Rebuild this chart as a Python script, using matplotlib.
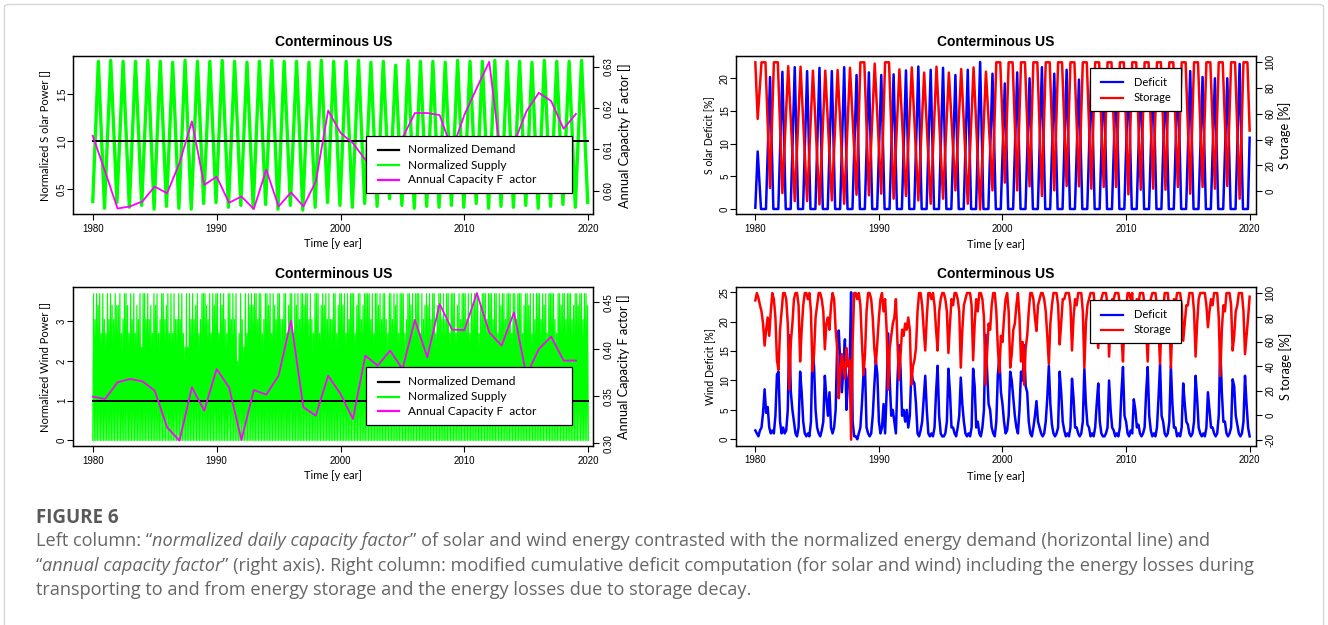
import numpy as np
import matplotlib.pyplot as plt
from matplotlib.patches import Rectangle, FancyBboxPatch
from matplotlib.lines import Line2D

plt.rcParams['font.family'] = ['Liberation Sans Narrow', 'Liberation Sans', 'DejaVu Sans']

W, H = 1328, 625

# ---------------- data ----------------
years = np.arange(1980, 2020)
xticks = [1980, 1990, 2000, 2010, 2020]
demand = 1.0

# annual capacity factor (magenta, right axis)
solar_cf = [0.6133, 0.6046, 0.5957, 0.5962, 0.5974, 0.6010, 0.5994, 0.6067, 0.6168, 0.6014,
            0.6034, 0.5971, 0.5986, 0.5956, 0.6051, 0.5962, 0.5996, 0.5962, 0.6022, 0.6194,
            0.6140, 0.6115, 0.6075, 0.6051, 0.6083, 0.6128, 0.6188, 0.6188, 0.6183, 0.6099,
            0.6184, 0.6249, 0.6312, 0.6067, 0.6115, 0.6192, 0.6237, 0.6217, 0.6150, 0.6186]
wind_cf = [0.3496, 0.3471, 0.3649, 0.3684, 0.3660, 0.3560, 0.3170, 0.3028, 0.3596, 0.3347,
           0.3790, 0.3596, 0.3035, 0.3567, 0.3517, 0.3719, 0.4305, 0.3383, 0.3294, 0.3719,
           0.3524, 0.3259, 0.3933, 0.3827, 0.3986, 0.3790, 0.4312, 0.3915, 0.4482, 0.4210,
           0.4205, 0.4599, 0.4181, 0.4039, 0.4394, 0.3719, 0.4003, 0.4135, 0.3880, 0.3880]

# normalized solar supply: start value, summer peaks, winter troughs
solar_start = 0.37
solar_peak = [1.84, 1.85, 1.84, 1.84, 1.85, 1.84, 1.83, 1.85, 1.84, 1.84,
              1.85, 1.84, 1.83, 1.84, 1.85, 1.84, 1.84, 1.83, 1.85, 1.84,
              1.84, 1.85, 1.83, 1.84, 1.80, 1.85, 1.84, 1.84, 1.83, 1.85,
              1.84, 1.84, 1.85, 1.84, 1.84, 1.83, 1.85, 1.84, 1.84, 1.85]
solar_trough = [0.30, 0.36, 0.31, 0.33, 0.29, 0.32, 0.30, 0.29, 0.35, 0.36,
                0.31, 0.33, 0.30, 0.34, 0.29, 0.33, 0.28, 0.31, 0.36, 0.33,
                0.31, 0.35, 0.32, 0.40, 0.33, 0.30, 0.32, 0.31, 0.33, 0.31,
                0.35, 0.30, 0.32, 0.31, 0.33, 0.30, 0.32, 0.34, 0.31, 0.36]

# normalized wind supply: peak heights, 8 per year ('9' = 3.7 ... '3' = 1.7)
wind_level = {'9': 3.70, '8': 3.40, '7': 3.05, '6': 2.70, '5': 2.35, '4': 2.00, '3': 1.70}
wind_peaks = ["97989697", "69798798", "89679986", "97968795", "99797869",
              "89679978", "96969779", "79659597", "97896799", "98796989",
              "96989769", "97979469", "75969898", "99799679", "98969879",
              "97799689", "96989799", "89979769", "99689897", "97799689",
              "98969799", "96899789", "99979699", "89799769", "97989699",
              "96799897", "99969789", "89799689", "97979969", "99689799",
              "97969899", "96899979", "99799698", "99799969", "97999689",
              "98969799", "97989699", "99769989", "97999789", "98997998"]

# solar deficit [%] (winter peaks) and storage [%]
sol_def_start, sol_def_end = 0.2, 10.9
sol_def_peak = [8.8, 20.2, 21.0, 21.7, 21.1, 21.6, 21.1, 21.7, 20.5, 20.9,
                20.5, 20.6, 21.2, 21.8, 21.3, 21.6, 20.5, 21.3, 22.5, 20.7,
                19.2, 20.9, 20.0, 21.7, 20.7, 21.3, 19.8, 20.8, 21.0, 20.6,
                21.2, 20.8, 21.0, 20.7, 21.1, 21.1, 20.2, 20.0, 20.0, 22.2]
sol_sto_start, sol_sto_end = 100, 47
sol_sto_trough = [56, 2.3, -1.6, -7.8, -7.8, -10.4, -7.3, -9.9, -2.9, -3.4,
                  -2.1, -6.0, -3.9, -7.3, -9.9, -6.0, 0.5, -9.9, -14.3, 0.5,
                  6.5, 0.5, 3.6, -3.9, 0.5, 3.9, 3.6, 1.8, 3.1, 3.1,
                  -2.6, 1.0, 1.8, 1.0, 3.1, -2.1, 3.1, 1.8, 3.9, -6.0]
sol_sto_peak = [100, 100, 97, 96.6, 93.5, 93.5, 94, 95.8, 100, 99,
                100, 94.5, 96, 92, 96.6, 92, 94.8, 96, 92.7, 100,
                100, 100, 100, 100, 100, 100, 100, 100, 100, 100,
                100, 100, 100, 100, 100, 100, 100, 100, 100, 100]

# wind deficit [%] and storage [%]: 8 readings per year (every 1.5 months)
wind_def = [
    [1.5, 1.0, 0.5, 1.5, 2.0, 4.5, 8.5, 4.5], [5.5, 2.0, 1.0, 1.5, 1.0, 4.0, 11.0, 11.5],
    [3.0, 1.0, 2.0, 1.0, 1.5, 5.0, 17.7, 8.0], [5.0, 3.0, 1.0, 0.5, 2.0, 11.5, 8.0, 3.0],
    [1.0, 0.5, 1.0, 0.5, 3.0, 15.0, 12.5, 5.0], [2.0, 1.0, 0.5, 1.5, 3.0, 10.8, 7.0, 4.0],
    [8.0, 2.0, 1.0, 2.0, 5.0, 16.0, 18.5, 13.0], [8.0, 12.0, 17.0, 5.0, 10.0, 12.0, 25.0, 3.0],
    [0.5, 0.5, 0.0, 1.0, 2.0, 6.0, 11.0, 12.0], [2.0, 1.0, 0.5, 1.0, 4.0, 9.0, 13.5, 11.0],
    [3.0, 1.0, 2.0, 6.0, 1.0, 8.0, 18.0, 10.0], [4.0, 5.0, 3.0, 1.0, 10.0, 16.0, 12.0, 4.0],
    [5.0, 3.0, 5.0, 2.0, 4.0, 11.5, 10.0, 9.5], [6.0, 1.0, 0.5, 1.5, 3.0, 7.0, 10.8, 5.0],
    [1.0, 0.5, 1.0, 0.5, 2.0, 8.0, 12.5, 4.0], [1.0, 0.5, 0.5, 1.0, 3.0, 12.0, 8.0, 2.0],
    [2.0, 1.0, 0.5, 2.0, 4.0, 10.5, 6.0, 3.0], [1.0, 0.5, 1.0, 0.5, 2.0, 12.0, 9.0, 2.0],
    [3.0, 1.0, 0.5, 2.0, 5.0, 17.8, 12.0, 6.0], [5.0, 2.0, 1.0, 0.5, 3.0, 11.0, 14.0, 8.0],
    [6.0, 3.0, 1.0, 1.5, 4.0, 11.5, 10.0, 7.0], [4.0, 2.0, 1.0, 5.0, 11.5, 10.0, 16.0, 9.0],
    [8.0, 3.0, 1.0, 0.5, 2.0, 4.0, 6.5, 3.0], [2.0, 1.0, 0.5, 1.0, 3.0, 7.0, 12.5, 6.0],
    [2.5, 1.0, 0.5, 1.0, 2.0, 11.5, 8.0, 3.0], [1.5, 0.5, 1.0, 0.5, 2.0, 10.3, 7.0, 2.0],
    [2.0, 1.0, 0.5, 1.0, 3.0, 12.0, 6.0, 2.5], [2.0, 0.5, 1.0, 0.5, 2.0, 6.0, 9.5, 3.0],
    [1.0, 0.5, 0.5, 1.0, 2.0, 10.0, 5.0, 2.0], [1.5, 0.5, 1.0, 0.5, 2.0, 8.0, 12.3, 4.0],
    [3.0, 1.0, 0.5, 1.5, 1.0, 6.8, 5.0, 2.0], [2.5, 1.0, 0.5, 1.0, 2.0, 8.0, 12.3, 4.0],
    [1.5, 0.5, 1.0, 0.5, 2.0, 7.0, 12.8, 4.0], [3.0, 1.0, 0.5, 1.0, 3.0, 12.5, 6.0, 2.0],
    [2.0, 0.5, 1.0, 0.5, 2.0, 9.5, 6.0, 3.0], [2.5, 1.0, 0.5, 1.0, 3.0, 10.8, 7.0, 2.0],
    [1.0, 0.5, 1.0, 0.5, 2.0, 8.0, 5.0, 2.0], [2.0, 1.0, 0.5, 1.0, 4.0, 15.8, 8.0, 3.0],
    [3.0, 1.0, 0.5, 1.0, 2.0, 10.2, 9.0, 4.0], [2.5, 1.0, 0.5, 1.0, 3.0, 10.8, 6.0, 2.0]]
wind_def_end = 0.5
wind_sto = [
    [94, 100, 96, 90, 85, 75, 57, 70], [80, 65, 85, 100, 95, 80, 45, 37],
    [70, 85, 100, 100, 95, 75, 21, 60], [75, 95, 100, 100, 90, 44, 70, 90],
    [100, 100, 95, 100, 85, 36, 50, 80], [90, 100, 100, 95, 85, 54, 75, 80],
    [70, 90, 100, 95, 70, 55, 14, 35], [50, 40, 30, 55, 40, 45, -20, 60],
    [100, 100, 95, 100, 90, 60, 33, 50], [85, 100, 100, 95, 80, 55, 42, 60],
    [80, 95, 100, 85, 95, 70, 21, 55], [65, 75, 80, 95, 60, 29, 50, 70],
    [65, 75, 70, 80, 70, 25, 40, 45], [55, 85, 100, 100, 90, 70, 53, 80],
    [100, 100, 95, 100, 90, 70, 53, 85], [95, 100, 100, 95, 85, 51, 75, 95],
    [90, 100, 100, 95, 85, 39, 70, 90], [95, 100, 100, 100, 90, 45, 75, 95],
    [85, 100, 100, 95, 80, 25, 50, 75], [70, 90, 100, 100, 85, 55, 35, 65],
    [60, 80, 95, 100, 85, 39, 50, 70], [75, 90, 100, 80, 44, 60, 25, 55],
    [65, 85, 100, 100, 95, 80, 69, 90], [95, 100, 100, 95, 85, 65, 42, 75],
    [90, 100, 100, 100, 90, 58, 75, 95], [95, 100, 100, 100, 90, 53, 80, 95],
    [90, 100, 100, 100, 85, 39, 75, 90], [95, 100, 100, 100, 85, 70, 55, 85],
    [95, 100, 100, 100, 90, 48, 80, 95], [95, 100, 100, 100, 90, 65, 44, 80],
    [85, 100, 100, 95, 100, 60, 80, 95], [90, 100, 100, 100, 90, 70, 44, 80],
    [95, 100, 100, 100, 90, 70, 42, 80], [85, 100, 100, 100, 85, 39, 75, 95],
    [90, 100, 100, 100, 90, 61, 75, 90], [90, 100, 100, 100, 85, 48, 75, 95],
    [100, 100, 100, 100, 90, 72, 85, 95], [90, 100, 100, 100, 80, 32, 70, 90],
    [85, 100, 100, 100, 90, 53, 65, 85], [90, 100, 100, 100, 85, 50, 65, 80]]
wind_sto_end = 97

# ---------------- figure ----------------
fig = plt.figure(figsize=(W / 100, H / 100), dpi=100)
fig.patch.set_facecolor('white')
fig.add_artist(FancyBboxPatch((4.5 / W, -0.05), 1319 / W, 1 - 4.5 / H + 0.05,
                              boxstyle='round,pad=0,rounding_size=0.004', transform=fig.transFigure,
                              facecolor='none', edgecolor='#d6d6d6', lw=1.0))


def rect(l, t, r, b):
    return [l / W, 1 - b / H, (r - l) / W, (b - t) / H]


def panel(box, xlim, ylim, yt, ytl, ylim2, yt2, ytl2):
    ax = fig.add_axes(rect(*box))
    ax.set_xlim(xlim)
    ax.set_ylim(ylim)
    ax.set_xticks(xticks, labels=[str(v) for v in xticks])
    ax.set_yticks(yt, labels=ytl)
    ax.tick_params(axis='both', direction='out', length=4, width=0.8, labelsize=7, colors='black')
    ax.tick_params(axis='x', pad=3)
    ax.tick_params(axis='y', pad=0.5, labelrotation=90)
    for t in ax.get_yticklabels():
        t.set_va('center')
    ax2 = ax.twinx()
    ax2.set_ylim(ylim2)
    ax2.set_yticks(yt2, labels=ytl2)
    ax2.tick_params(axis='y', direction='out', length=4, width=0.8, labelsize=7, pad=3.2, labelrotation=90)
    for t in ax2.get_yticklabels():
        t.set_va('center')
    for a in (ax, ax2):
        for s in a.spines.values():
            s.set_linewidth(0.9)
            s.set_color('black')
        a.patch.set_visible(False)
    return ax, ax2


def ftext(x, y, s, **kw):
    return fig.text(x / W, 1 - y / H, s, **kw)


def legend(l, t, r, b, rows, entries, lx, tx, size):
    fig.add_artist(Rectangle((l / W, 1 - b / H), (r - l) / W, (b - t) / H, transform=fig.transFigure,
                             facecolor='white', edgecolor='black', lw=0.9, zorder=5))
    for y, (lab, col) in zip(rows, entries):
        fig.add_artist(Line2D([lx[0] / W, lx[1] / W], [1 - y / H] * 2, transform=fig.transFigure,
                              color=col, lw=1.6, zorder=6))
        ftext(tx, y, lab, fontsize=size, family='Lato', va='center', zorder=6)


xl_left = (1978.43, 2020.40)
xl_right = (1978.46, 2020.49)

# ---- panel 1: solar supply ----
ax, ax2 = panel((73.3, 56, 593.3, 214.3), xl_left, (0.236, 1.897), [0.5, 1.0, 1.5], ['0.5', '1.0', '1.5'],
                (0.5943, 0.6326), [0.60, 0.61, 0.62, 0.63], ['0.60', '0.61', '0.62', '0.63'])
t, v = [1980.0], [solar_start]
for i, k in enumerate(years):
    t += [k + 0.45, k + 0.95]
    v += [solar_peak[i], solar_trough[i]]
ax.plot(t, v, color='#00ff00', lw=2.4, solid_joinstyle='round')
ax.plot([xticks[0], xticks[-1]], [demand, demand], color='black', lw=1.4)
ax2.plot(years, solar_cf, color='#ff00ff', lw=1.3)

# ---- panel 3: wind supply ----
ax, ax2 = panel((73.3, 287.3, 593.3, 446), xl_left, (-0.14, 3.86), [0, 1, 2, 3], ['0', '1', '2', '3'],
                (0.2971, 0.466), [0.30, 0.35, 0.40, 0.45], ['0.30', '0.35', '0.40', '0.45'])
t, v = [1980.0], [0.0]
for i, k in enumerate(years):
    for j, c in enumerate(wind_peaks[i]):
        t += [k + (j + 0.5) / 8, k + (j + 1) / 8]
        v += [wind_level[c], 0.0]
ax.plot(t, v, color='#00ff00', lw=0.85)
ax.plot([xticks[0], xticks[-1]], [demand, demand], color='black', lw=1.4)
ax2.plot(years, wind_cf, color='#ff00ff', lw=1.3)

# ---- panel 2: solar deficit / storage ----
ax, ax2 = panel((736.3, 56, 1255.7, 214.3), xl_right, (-0.81, 23.41), [0, 5, 10, 15, 20],
                ['0', '5', '10', '15', '20'], (-18.1, 104.9), [0, 20, 40, 60, 80, 100],
                ['0', '20', '40', '60', '80', '100'])
t, v = [1980.0], [sol_def_start]
for i, k in enumerate(years):
    if i > 0:
        t.append(k - 0.14)
        v.append(0.0)
    t += [k + 0.19, k + 0.46]
    v += [sol_def_peak[i], 0.0]
t += [2019.86, 2020.0]
v += [0.0, sol_def_end]
ax.plot(t, v, color='#0000ff', lw=1.8, solid_joinstyle='round')
t, v = [1980.0], [sol_sto_start]
for i, k in enumerate(years):
    t.append(k + 0.19)
    v.append(sol_sto_trough[i])
    if sol_sto_peak[i] >= 100:
        t += [k + 0.5, k + 0.82]
        v += [100, 100]
    else:
        t.append(k + 0.66)
        v.append(sol_sto_peak[i])
t.append(2020.0)
v.append(sol_sto_end)
ax2.plot(t, v, color='#ff0000', lw=1.8, solid_joinstyle='round')

# ---- panel 4: wind deficit / storage ----
ax, ax2 = panel((736.3, 287.3, 1255.7, 445.7), xl_right, (-1.09, 25.85), [0, 5, 10, 15, 20, 25],
                ['0', '5', '10', '15', '20', '25'], (-24.9, 104.7), [-20, 0, 20, 40, 60, 80, 100],
                ['-20', '0', '20', '40', '60', '80', '100'])
t, v, s = [], [], []
for i, k in enumerate(years):
    for j in range(8):
        t.append(k + j / 8)
        v.append(wind_def[i][j])
        s.append(wind_sto[i][j])
t.append(2020.0)
v.append(wind_def_end)
s.append(wind_sto_end)
ax.plot(t, v, color='#0000ff', lw=1.8)
ax2.plot(t, s, color='#ff0000', lw=1.8)

# ---- titles and axis labels ----
for cx, cy in [(333.3, 42), (996, 42), (333.3, 274), (996, 274)]:
    ftext(cx, cy, 'Conterminous US', ha='center', va='center', fontsize=10, weight='bold',
          family='Liberation Sans')
for cx, cy in [(333.3, 243.4), (996, 244.4), (333.3, 475.7), (996, 476)]:
    ftext(cx, cy, 'Time [y ear]', ha='center', va='center', fontsize=8, family='Lato')
lab = dict(rotation=90, ha='center', va='center', family='Lato')
ftext(45, 135.2, 'Normalized S olar Power []', fontsize=8, **lab)
ftext(45, 366.7, 'Normalized Wind Power []', fontsize=8, **lab)
ftext(624.5, 135.2, 'Annual Capacity F actor []', fontsize=9.2, **lab)
ftext(623.5, 366.7, 'Annual Capacity F actor []', fontsize=9.2, **lab)
ftext(708.5, 135.2, 'S olar Deficit [%]', fontsize=7.6, **lab)
ftext(709.5, 366.5, 'Wind Deficit [%]', fontsize=7.6, **lab)
ftext(1285, 135.2, 'S torage [%]', fontsize=9.2, **lab)
ftext(1285.5, 366.5, 'S torage [%]', fontsize=9.2, **lab)

# ---- legends ----
sup = [('Normalized Demand', 'black'), ('Normalized Supply', '#00ff00'), ('Annual Capacity F  actor', '#ff00ff')]
legend(366, 135.7, 572, 193.2, [149.7, 165.4, 179.8], sup, (377.6, 398.8), 408.4, 8.6)
legend(366, 367.3, 572, 425, [381.7, 396.7, 411.3], sup, (377.6, 398.8), 408.4, 8.6)
dfs = [('Deficit', '#0000ff'), ('Storage', '#ff0000')]
legend(1090, 67.7, 1181, 110.6, [82.1, 97.8], dfs, (1100.7, 1122.6), 1133.7, 8)
legend(1090, 300, 1181, 342.7, [314.6, 329.6], dfs, (1100.7, 1122.6), 1133.7, 8)

# ---- caption ----
ftext(36, 518, 'FIGURE 6', fontsize=13.5, weight='bold', family='Open Sans', color='#595959', va='center')
renderer = fig.canvas.get_renderer()
cap = [
    (541, [("Left column: \u201c", False), ("normalized daily capacity factor", True),
           ("\u201d of solar and wind energy contrasted with the normalized energy demand (horizontal line) and", False)]),
    (566, [("\u201c", False), ("annual capacity factor", True),
           ("\u201d (right axis). Right column: modified cumulative deficit computation (for solar and wind) "
            "including the energy losses during", False)]),
    (590, [("transporting to and from energy storage and the energy losses due to storage decay.", False)]),
]
for y, runs in cap:
    x = 36
    for txt, it in runs:
        tt = ftext(x, y, txt, fontsize=13.1, family='Open Sans', color='#666666', va='center',
                   style='italic' if it else 'normal')
        x += tt.get_window_extent(renderer).width

fig.savefig('out.png', dpi=100)
